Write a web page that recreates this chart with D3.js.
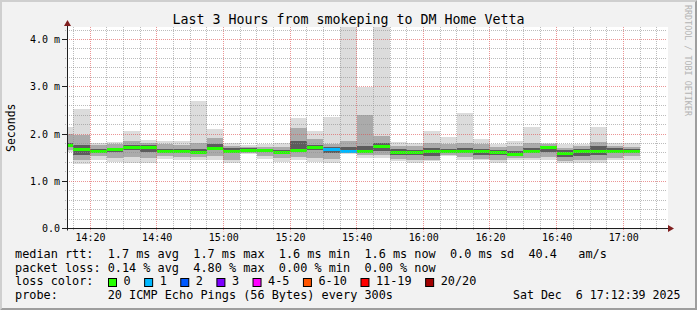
<!DOCTYPE html>
<html>
<head>
<meta charset="utf-8">
<script src="https://cdn.jsdelivr.net/npm/d3@7"></script>
<style>
  body { margin: 0; background: #fff; }
  svg { display: block; }
  text { font-family: "DejaVu Sans Mono", monospace; white-space: pre; }
</style>
</head>
<body>
<div id="chart"></div>
<script>
// SmokePing style latency graph, last 3 hours, 5 minute steps

// interval start times (each bar covers 5 minutes)
const times = ['14:10', '14:15', '14:20', '14:25', '14:30', '14:35', '14:40', '14:45', '14:50', '14:55',
               '15:00', '15:05', '15:10', '15:15', '15:20', '15:25', '15:30', '15:35', '15:40', '15:45',
               '15:50', '15:55', '16:00', '16:05', '16:10', '16:15', '16:20', '16:25', '16:30', '16:35',
               '16:40', '16:45', '16:50', '16:55', '17:00'];

// ping round trip times in ms
const medianMs = [1.76, 1.68, 1.65, 1.68, 1.73, 1.73, 1.65, 1.63, 1.62, 1.71,
                  1.65, 1.67, 1.66, 1.62, 1.67, 1.73, 1.68, 1.65, 1.65, 1.74,
                  1.62, 1.61, 1.65, 1.63, 1.65, 1.63, 1.62, 1.57, 1.65, 1.73,
                  1.60, 1.65, 1.65, 1.65, 1.65];
const maxMs = [2.15, 2.53, 1.81, 1.84, 2.06, 1.87, 1.86, 1.85, 2.70, 2.11,
               1.80, 1.77, 1.79, 1.80, 2.34, 2.07, 2.37, 4.40, 3.00, 4.40,
               1.84, 1.82, 2.06, 1.93, 2.44, 1.89, 1.79, 1.85, 2.14, 1.82,
               1.79, 1.79, 2.14, 1.80, 1.80];
const p85Ms = [2.00, 1.98, 1.76, 1.78, 1.85, 1.82, 1.78, 1.76, 1.80, 1.92,
               1.74, 1.73, 1.73, 1.72, 2.12, 1.90, 1.78, 1.86, 2.40, 1.95,
               1.75, 1.74, 1.80, 1.78, 1.82, 1.78, 1.72, 1.74, 1.80, 1.78,
               1.70, 1.74, 1.84, 1.75, 1.72];
const p65Ms = [1.82, 1.76, 1.69, 1.71, 1.76, 1.76, 1.69, 1.68, 1.68, 1.78,
               1.70, 1.70, 1.69, 1.66, 1.85, 1.76, 1.72, 1.72, 1.75, 1.80,
               1.68, 1.66, 1.70, 1.68, 1.70, 1.68, 1.66, 1.64, 1.70, 1.74,
               1.66, 1.68, 1.74, 1.70, 1.68];
const p35Ms = [1.72, 1.56, 1.60, 1.62, 1.66, 1.62, 1.60, 1.59, 1.58, 1.66,
               1.60, 1.64, 1.62, 1.58, 1.62, 1.66, 1.60, 1.63, 1.60, 1.63,
               1.56, 1.55, 1.54, 1.60, 1.60, 1.56, 1.55, 1.54, 1.60, 1.62,
               1.52, 1.54, 1.55, 1.60, 1.62];
const p15Ms = [1.66, 1.46, 1.53, 1.50, 1.52, 1.50, 1.54, 1.52, 1.52, 1.54,
               1.45, 1.60, 1.54, 1.50, 1.52, 1.50, 1.48, 1.62, 1.55, 1.56,
               1.48, 1.45, 1.46, 1.56, 1.52, 1.48, 1.45, 1.49, 1.50, 1.52,
               1.42, 1.44, 1.44, 1.50, 1.54];
const minMs = [1.62, 1.37, 1.45, 1.41, 1.39, 1.39, 1.47, 1.46, 1.46, 1.46,
               1.38, 1.58, 1.47, 1.41, 1.45, 1.41, 1.39, 1.58, 1.49, 1.49,
               1.42, 1.38, 1.42, 1.53, 1.46, 1.45, 1.38, 1.46, 1.45, 1.46,
               1.39, 1.39, 1.38, 1.45, 1.46];
// lost pings out of 20 per interval
const lostPings = [0, 0, 0, 0, 0, 0, 0, 0, 0, 0,
                   0, 0, 0, 0, 0, 0, 1, 1, 0, 0,
                   0, 0, 0, 0, 0, 0, 0, 0, 0, 0,
                   0, 0, 0, 0, 0];

// loss colour legend
const lossLabels = ['0', '1', '2', '3', '4-5', '6-10', '11-19', '20/20'];
const lossColors = ['#26ff00', '#00b8ff', '#0059ff', '#7e00ff', '#ff00ff', '#ff5500', '#ff0000', '#a10000'];
const lossMaxCount = [0, 1, 2, 3, 5, 10, 19, 20];

const yTickValues = [0, 1, 2, 3, 4];
const yTickLabels = ['0.0', '1.0 m', '2.0 m', '3.0 m', '4.0 m'];

const legendLines = [
    'median rtt:  1.7 ms avg  1.7 ms max  1.6 ms min  1.6 ms now  0.0 ms sd  40.4   am/s',
    'packet loss: 0.14 % avg  4.80 % max  0.00 % min  0.00 % now',
];
const probeText = 'probe:       20 ICMP Echo Pings (56 Bytes) every 300s';
const dateText = 'Sat Dec  6 17:12:39 2025';
const titleText = 'Last 3 Hours from smokeping to DM Home Vetta';

const W = 697, H = 310;
const plot = { left: 67, right: 667, top: 27, bottom: 228.5 };

const parseT = t => {
    const [h, m] = t.split(':').map(Number);
    return new Date(2025, 11, 6, h, m, 0);
};

const x = d3.scaleTime()
    .domain([new Date(2025, 11, 6, 14, 13, 6), new Date(2025, 11, 6, 17, 13, 6)])
    .range([plot.left, plot.right]);
const y = d3.scaleLinear()
    .domain([0, 4.265])
    .range([plot.bottom, plot.top]);

const crisp = v => Math.floor(v) + 0.5;

const svg = d3.select('#chart').append('svg')
    .attr('width', W)
    .attr('height', H)
    .attr('viewBox', [0, 0, W, H]);

// background and bevel shades
svg.append('rect').attr('width', W).attr('height', H).attr('fill', '#f2f2f2');
svg.append('path')
    .attr('d', `M0,${H}L2,${H - 2}L2,2L${W - 2},2L${W},0L0,0Z`)
    .attr('fill', '#cfcfcf');
svg.append('path')
    .attr('d', `M2,${H - 2}L${W - 2},${H - 2}L${W - 2},2L${W},0L${W},${H}L0,${H}Z`)
    .attr('fill', '#9e9e9e');

// canvas
svg.append('rect')
    .attr('x', plot.left).attr('y', plot.top)
    .attr('width', plot.right - plot.left + 1)
    .attr('height', plot.bottom - plot.top)
    .attr('fill', '#ffffff');

svg.append('defs').append('clipPath').attr('id', 'plotclip')
    .append('rect')
    .attr('x', plot.left).attr('y', plot.top)
    .attr('width', plot.right - plot.left)
    .attr('height', plot.bottom - plot.top);

const rows = times.map((t, i) => ({
    t0: parseT(t),
    t1: d3.timeMinute.offset(parseT(t), 5),
    med: medianMs[i], max: maxMs[i], min: minMs[i],
    p85: p85Ms[i], p65: p65Ms[i], p35: p35Ms[i], p15: p15Ms[i],
    loss: lostPings[i],
}));

const lossColor = n => lossColors[lossMaxCount.findIndex(m => n <= m)];

const data = svg.append('g').attr('clip-path', 'url(#plotclip)')
    .attr('shape-rendering', 'crispEdges');

// smoke bands, outer (light) to inner (dark)
const bands = [
    { lo: 'min', hi: 'max', color: '#dcdcdc' },
    { lo: 'p15', hi: 'p85', color: '#ababab' },
    { lo: 'p35', hi: 'p65', color: '#5c5c5c' },
];
bands.forEach(b => {
    data.append('g').selectAll('rect')
        .data(rows)
        .join('rect')
        .attr('x', d => x(d.t0))
        .attr('width', d => x(d.t1) - x(d.t0))
        .attr('y', d => y(d[b.hi]))
        .attr('height', d => y(d[b.lo]) - y(d[b.hi]))
        .attr('fill', b.color);
});

// median, coloured by loss
data.append('g').selectAll('rect')
    .data(rows)
    .join('rect')
    .attr('x', d => x(d.t0))
    .attr('width', d => x(d.t1) - x(d.t0))
    .attr('y', d => Math.round(y(d.med)) - 1.5)
    .attr('height', 3)
    .attr('fill', d => lossColor(d.loss));

// grid on top of the data
const grid = svg.append('g');
const minorX = x.ticks(d3.timeMinute.every(5));
const majorX = x.ticks(d3.timeMinute.every(20));
const minorY = d3.range(0.2, 4.265, 0.2).filter(v => Math.abs(v - Math.round(v)) > 0.01);

grid.selectAll('.gx').data(minorX.filter(d => d.getMinutes() % 20 !== 0)).join('line')
    .attr('x1', d => crisp(x(d))).attr('x2', d => crisp(x(d)))
    .attr('y1', plot.top).attr('y2', plot.bottom + 2)
    .attr('stroke', 'rgba(143,143,143,0.6)').attr('stroke-dasharray', '1,1');
grid.selectAll('.gy').data(minorY).join('line')
    .attr('y1', d => crisp(y(d))).attr('y2', d => crisp(y(d)))
    .attr('x1', plot.left - 2).attr('x2', plot.right)
    .attr('stroke', 'rgba(143,143,143,0.6)').attr('stroke-dasharray', '1,1');
grid.selectAll('.mx').data(majorX).join('line')
    .attr('x1', d => crisp(x(d))).attr('x2', d => crisp(x(d)))
    .attr('y1', plot.top).attr('y2', plot.bottom + 3)
    .attr('stroke', 'rgba(222,79,79,0.6)').attr('stroke-dasharray', '1,1');
grid.selectAll('.my').data(yTickValues.filter(v => v > 0)).join('line')
    .attr('y1', d => crisp(y(d))).attr('y2', d => crisp(y(d)))
    .attr('x1', plot.left).attr('x2', plot.right)
    .attr('stroke', 'rgba(222,79,79,0.6)').attr('stroke-dasharray', '1,1');

// y major ticks (left of axis)
grid.selectAll('.ty').data(yTickValues).join('line')
    .attr('y1', d => crisp(y(d))).attr('y2', d => crisp(y(d)))
    .attr('x1', plot.left - 5).attr('x2', plot.left)
    .attr('stroke', '#1f1f1f');

// axes lines
const axisY = crisp(plot.bottom);
svg.append('line')
    .attr('x1', plot.left - 2).attr('x2', plot.right + 3)
    .attr('y1', axisY).attr('y2', axisY)
    .attr('stroke', '#1f1f1f');
svg.append('line')
    .attr('x1', crisp(plot.left)).attr('x2', crisp(plot.left))
    .attr('y1', plot.bottom + 2).attr('y2', plot.top - 4)
    .attr('stroke', '#1f1f1f');
// arrows
svg.append('path')
    .attr('d', `M${plot.right + 1},${axisY - 3.5}L${plot.right + 7},${axisY}L${plot.right + 1},${axisY + 3.5}Z`)
    .attr('fill', '#801f1f');
svg.append('path')
    .attr('d', `M${crisp(plot.left) - 3.5},${plot.top - 1}L${crisp(plot.left)},${plot.top - 7}L${crisp(plot.left) + 3.5},${plot.top - 1}Z`)
    .attr('fill', '#801f1f');

// axis labels through d3 axes
const xAxis = svg.append('g')
    .attr('transform', `translate(0,${plot.bottom})`)
    .call(d3.axisBottom(x)
        .ticks(d3.timeMinute.every(20))
        .tickFormat(d3.timeFormat('%H:%M'))
        .tickSize(0)
        .tickPadding(5));
xAxis.select('.domain').remove();
xAxis.selectAll('text')
    .attr('font-family', 'DejaVu Sans Mono')
    .attr('font-size', 10)
    .attr('fill', '#000');

const yAxis = svg.append('g')
    .attr('transform', `translate(${plot.left - 7},0)`)
    .call(d3.axisLeft(y)
        .tickValues(yTickValues)
        .tickFormat((d, i) => yTickLabels[i])
        .tickSize(0)
        .tickPadding(0));
yAxis.select('.domain').remove();
yAxis.selectAll('text')
    .attr('font-family', 'DejaVu Sans Mono')
    .attr('font-size', 10)
    .attr('fill', '#000');

// title and y label
svg.append('text')
    .attr('x', W / 2).attr('y', 24)
    .attr('text-anchor', 'middle')
    .attr('font-size', 13.3)
    .text(titleText);

svg.append('text')
    .attr('transform', `translate(15,${(plot.top + plot.bottom) / 2}) rotate(-90)`)
    .attr('text-anchor', 'middle')
    .attr('font-size', 11.5)
    .text('Seconds');

svg.append('text')
    .attr('transform', 'translate(685,5) rotate(90)')
    .attr('font-size', 8.4)
    .attr('fill', '#b4b4b4')
    .text('RRDTOOL / TOBI OETIKER');

// legend
const legendFont = 11.85;
const lineY = [258, 271.5, 285, 299];
legendLines.forEach((l, i) => {
    svg.append('text')
        .attr('x', 15).attr('y', lineY[i])
        .attr('font-size', legendFont)
        .text(l);
});
svg.append('text')
    .attr('x', 15).attr('y', lineY[2])
    .attr('font-size', legendFont)
    .text('loss color:');

const charW = legendFont * 0.602;
let bx = 108.5;
lossLabels.forEach((lab, i) => {
    svg.append('rect')
        .attr('x', bx).attr('y', 278.5)
        .attr('width', 8).attr('height', 8)
        .attr('fill', lossColors[i])
        .attr('stroke', '#000');
    svg.append('text')
        .attr('x', bx + 15).attr('y', lineY[2])
        .attr('font-size', legendFont)
        .text(lab);
    bx += 15 + lab.length * charW + 14;
});

svg.append('text')
    .attr('x', 15).attr('y', lineY[3])
    .attr('font-size', legendFont)
    .text(probeText);
svg.append('text')
    .attr('x', 680.5).attr('y', lineY[3])
    .attr('text-anchor', 'end')
    .attr('font-size', 11.6)
    .text(dateText);
</script>
</body>
</html>
